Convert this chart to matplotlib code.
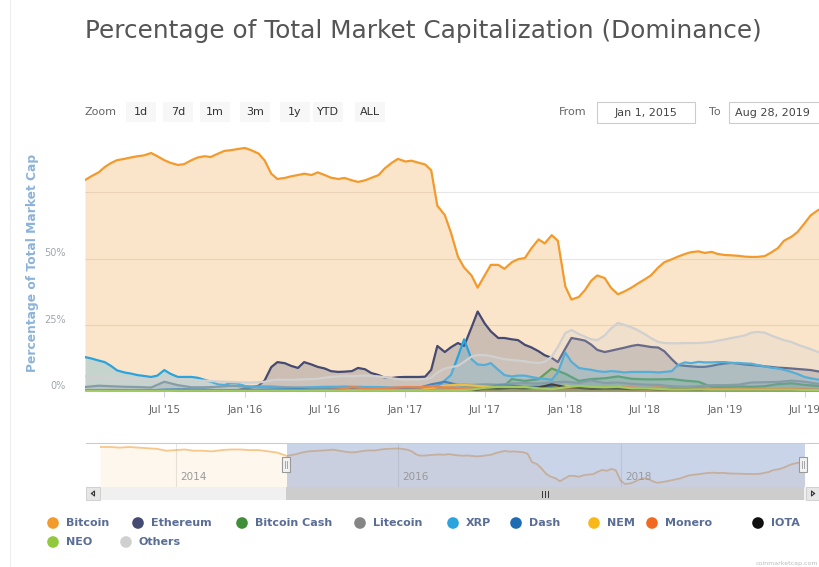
"""Percentage of total crypto market cap (dominance), Highstock-style screenshot."""

import matplotlib
matplotlib.use("Agg")
import matplotlib.pyplot as plt
import matplotlib.dates as mdates
import pandas as pd
from matplotlib.patches import Rectangle

# ---------------------------------------------------------------------------
# Data (% of total market cap)
# ---------------------------------------------------------------------------

HALF_DATES = list(pd.date_range("2015-01-01", "2019-08-16", freq="SMS")) + [pd.Timestamp("2019-08-28")]
MONTH_DATES = list(pd.date_range("2015-01-01", "2019-08-01", freq="MS")) + [pd.Timestamp("2019-08-28")]

bitcoin = [
    79.6, 81.0, 82.5, 84.5, 86.0, 87.1, 87.6, 88.1, 88.6, 88.9, 89.8, 88.6,
    87.1, 86.1, 85.3, 85.6, 87.1, 88.1, 88.6, 88.3, 89.6, 90.6, 90.9, 91.3,
    91.7, 90.9, 89.6, 87.0, 82.0, 80.0, 80.4, 81.0, 81.5, 82.0, 81.5, 82.5,
    81.5, 80.5, 80.0, 80.4, 79.5, 78.9, 79.5, 80.4, 81.5, 84.0, 86.1, 87.6,
    86.6, 86.9, 86.1, 85.5, 83.3, 69.9, 66.4, 59.8, 50.7, 46.6, 43.6, 39.0,
    43.6, 47.6, 47.6, 46.1, 48.6, 49.7, 50.2, 53.7, 57.2, 55.7, 58.8, 56.7,
    39.5, 34.5, 35.5, 38.1, 41.6, 43.6, 42.6, 39.0, 36.5, 37.5, 39.0, 40.5,
    42.1, 43.6, 46.6, 48.6, 49.7, 50.7, 51.7, 52.4, 52.7, 52.1, 52.5, 51.7,
    51.3, 51.2, 51.0, 50.7, 50.6, 50.6, 50.9, 52.2, 53.9, 56.7, 58.2, 60.0,
    63.3, 66.3, 68.3, 68.9, 69.9,
]
ethereum = [
    0, 0, 0, 0, 0, 0, 0, 0, 0, 0, 0, 0,
    0, 0, 0.2, 0.5, 0.4, 0.3, 0.2, 0.2, 0.3, 0.3, 0.3, 0.3,
    1.0, 1.3, 2.0, 4.0, 9.0, 10.9, 10.5, 9.5, 8.7, 10.9, 10.0, 9.1,
    8.5, 7.5, 7.2, 7.3, 7.5, 8.7, 8.2, 6.8, 6.0, 5.0, 4.9, 5.2,
    5.3, 5.3, 5.3, 5.4, 8.0, 17.0, 14.7, 16.5, 18.1, 17.0, 24.0, 30.0,
    25.5, 22.5, 20.0, 20.0, 19.5, 19.2, 17.4, 16.5, 15.0, 13.5, 12.5, 10.9,
    16.0, 20.0, 19.5, 19.0, 17.5, 15.5, 14.7, 15.2, 15.8, 16.3, 17.0, 17.4,
    17.0, 16.6, 16.4, 15.0, 12.0, 9.8, 9.5, 9.3, 9.1, 9.1, 9.5, 10.0,
    10.4, 10.6, 10.3, 10.0, 9.8, 9.6, 9.3, 9.1, 8.8, 8.7, 8.5, 8.3,
    8.1, 7.9, 7.4, 6.8, 6.5,
]
xrp = [
    12.8, 12.3, 11.5, 10.9, 9.5, 7.8, 7.0, 6.6, 6.0, 5.7, 5.3, 5.8,
    7.9, 6.5, 5.3, 5.3, 5.3, 5.0, 4.2, 3.5, 2.5, 2.3, 3.0, 2.8,
    1.9, 1.6, 1.5, 1.5, 1.4, 1.3, 1.2, 1.2, 1.2, 1.3, 1.4, 1.5,
    1.6, 1.6, 1.6, 1.7, 1.6, 1.6, 1.5, 1.5, 1.5, 1.4, 1.3, 1.3,
    1.3, 1.4, 1.3, 1.3, 1.2, 1.8, 4.0, 6.0, 13.0, 19.5, 12.0, 10.0,
    9.8, 10.5, 8.0, 6.0, 5.5, 5.8, 5.8, 5.3, 4.8, 4.6, 4.2, 7.0,
    14.5, 11.0, 8.7, 8.3, 8.0, 7.5, 7.2, 7.5, 7.3, 7.0, 7.2, 7.2,
    7.2, 7.2, 7.0, 7.2, 7.5, 9.8, 10.8, 10.5, 11.0, 10.8, 10.8, 10.9,
    10.9, 10.6, 10.6, 10.4, 10.3, 9.8, 9.3, 8.8, 8.5, 8.0, 7.2, 6.4,
    5.3, 4.8, 4.3, 4.0, 3.8,
]
others = [
    5.5, 5.3, 5.2, 5.0, 4.8, 4.7, 4.7, 4.5, 4.5, 4.4, 4.3, 4.3,
    4.5, 4.6, 4.5, 4.3, 4.2, 4.0, 3.9, 3.8, 3.6, 3.5, 3.4, 3.3,
    3.2, 3.2, 3.3, 3.5, 4.0, 4.3, 4.2, 4.2, 4.3, 4.4, 4.5, 4.6,
    5.0, 5.3, 5.5, 5.7, 5.6, 5.7, 5.8, 5.7, 5.5, 5.2, 4.8, 4.5,
    4.3, 4.3, 4.3, 4.5, 5.0, 7.0, 8.5, 9.0, 9.5, 11.0, 13.0, 13.6,
    13.5, 13.2, 12.5, 12.0, 11.7, 11.5, 11.2, 10.8, 10.6, 11.0, 13.0, 16.6,
    21.9, 23.0, 21.5, 20.5, 19.5, 19.2, 21.0, 23.5, 25.7, 25.0, 24.0, 23.0,
    21.5, 20.0, 18.5, 18.1, 18.0, 18.0, 18.1, 18.1, 18.1, 18.3, 18.5, 19.0,
    19.5, 20.0, 20.5, 21.0, 22.0, 22.3, 22.0, 21.0, 20.0, 19.2, 18.5, 17.5,
    16.6, 15.8, 14.7, 14.3, 14.0,
]

bitcoin_cash = [
    0, 0, 0, 0, 0, 0, 0, 0, 0, 0, 0, 0,
    0, 0, 0, 0, 0, 0, 0, 0, 0, 0, 0, 0,
    0, 0, 0, 0, 0, 0, 0, 0, 4.5, 3.8, 4.5, 8.5,
    6.5, 3.8, 4.5, 4.8, 5.5, 4.6, 4.4, 4.4, 4.5, 3.9, 3.5, 1.5,
    1.6, 1.7, 1.6, 1.8, 2.6, 2.9, 2.3, 1.9, 1.9,
]
litecoin = [
    1.5, 2.0, 1.8, 1.6, 1.5, 1.3, 3.5, 2.2, 1.4, 1.4, 1.6, 2.0,
    1.7, 1.7, 1.7, 1.4, 1.3, 1.2, 1.2, 1.0, 1.1, 1.1, 1.2, 1.0,
    1.0, 1.0, 1.0, 1.4, 2.5, 2.3, 2.5, 2.4, 2.8, 3.0, 2.8, 3.2,
    3.5, 3.0, 4.0, 3.0, 3.2, 2.7, 2.4, 2.3, 1.8, 1.6, 1.8, 2.2,
    2.2, 2.4, 3.2, 3.3, 3.4, 3.9, 3.5, 2.7, 2.6,
]
dash = [
    0.1, 0.1, 0.3, 0.3, 0.3, 0.3, 0.5, 0.6, 0.5, 0.5, 0.3, 0.3,
    0.3, 0.4, 0.5, 0.6, 0.7, 0.6, 0.6, 0.6, 0.8, 0.9, 0.8, 0.9,
    0.8, 1.2, 2.5, 3.5, 2.3, 1.7, 1.5, 2.0, 2.0, 1.5, 1.6, 1.8,
    1.6, 1.6, 1.3, 1.2, 1.3, 1.0, 1.0, 1.0, 0.9, 0.9, 1.1, 0.6,
    0.6, 0.6, 0.6, 0.7, 0.7, 0.7, 0.5, 0.4, 0.4,
]
nem = [
    0, 0, 0, 0.1, 0.1, 0.1, 0.1, 0.1, 0.1, 0.1, 0.1, 0.1,
    0.05, 0.05, 0.1, 0.2, 0.3, 0.4, 0.4, 0.3, 0.3, 0.3, 0.3, 0.3,
    0.3, 0.4, 1.0, 2.0, 2.4, 2.1, 1.7, 1.5, 1.5, 1.0, 1.0, 1.1,
    2.0, 1.4, 1.0, 1.0, 0.8, 0.7, 0.7, 0.5, 0.4, 0.5, 0.5, 0.4,
    0.3, 0.4, 0.4, 0.4, 0.3, 0.3, 0.2, 0.2, 0.2,
]
monero = [
    0.3, 0.3, 0.2, 0.2, 0.2, 0.2, 0.2, 0.2, 0.1, 0.1, 0.1, 0.1,
    0.1, 0.2, 0.2, 0.3, 0.3, 0.3, 0.3, 0.6, 1.5, 1.0, 1.1, 1.2,
    1.5, 1.4, 1.8, 1.3, 1.1, 0.9, 0.7, 0.8, 1.1, 1.2, 1.0, 1.0,
    1.1, 1.1, 1.2, 1.4, 1.5, 1.3, 1.1, 1.3, 1.0, 1.1, 1.0, 0.8,
    0.7, 0.7, 0.7, 0.7, 0.7, 0.7, 0.6, 0.5, 0.4,
]
iota = [
    0, 0, 0, 0, 0, 0, 0, 0, 0, 0, 0, 0,
    0, 0, 0, 0, 0, 0, 0, 0, 0, 0, 0, 0,
    0, 0, 0, 0, 0, 0, 1.0, 0.9, 1.2, 1.0, 1.3, 2.5,
    1.5, 1.2, 0.8, 0.9, 0.9, 0.7, 0.8, 0.6, 0.6, 0.6, 0.4, 0.3,
    0.2, 0.2, 0.2, 0.2, 0.2, 0.3, 0.2, 0.1, 0.1,
]
neo = [
    0, 0, 0, 0, 0, 0, 0, 0, 0, 0, 0, 0,
    0, 0, 0, 0, 0, 0, 0.1, 0.1, 0.1, 0.1, 0.1, 0.1,
    0.1, 0.1, 0.1, 0.2, 0.3, 0.5, 1.2, 1.6, 1.5, 1.5, 1.0, 0.7,
    1.4, 1.9, 1.6, 1.4, 1.6, 1.0, 1.0, 0.8, 0.6, 0.6, 0.6, 0.5,
    0.5, 0.5, 0.5, 0.5, 0.5, 0.5, 0.4, 0.4, 0.3,
]

# Bitcoin before the selected range (navigator only)
NAV_PRE_DATES = [pd.Timestamp("2013-04-28")] + list(pd.date_range("2013-05-01", "2014-12-01", freq="MS"))
nav_bitcoin_pre = [94.5, 94, 94, 93, 94, 93, 92, 91, 88, 89, 90, 88, 88, 87, 89, 90, 90, 89, 89, 87, 85]

NAMES = ["Bitcoin", "Ethereum", "Bitcoin Cash", "Litecoin", "XRP", "Dash",
         "NEM", "Monero", "IOTA", "NEO", "Others"]
COLORS = ["#f39a2c", "#454a72", "#3f8f3a", "#858585", "#2ba3dc", "#1c6db4",
          "#f9b81a", "#f26a22", "#111111", "#92c83e", "#d0d0d0"]
SERIES_DATES = [HALF_DATES, HALF_DATES, MONTH_DATES, MONTH_DATES, HALF_DATES, MONTH_DATES,
                MONTH_DATES, MONTH_DATES, MONTH_DATES, MONTH_DATES, HALF_DATES]
SERIES_VALUES = [bitcoin, ethereum, bitcoin_cash, litecoin, xrp, dash,
                 nem, monero, iota, neo, others]

X_TICKS = list(pd.date_range("2015-07-01", "2019-07-01", freq="6MS"))

# ---------------------------------------------------------------------------
# Figure (all layout in pixels of an 820x567 canvas)
# ---------------------------------------------------------------------------

W, H = 820, 567
fig = plt.figure(figsize=(W / 100, H / 100), dpi=100)
fig.patch.set_facecolor("white")


def box(x0, y0, x1, y1):
    return [x0 / W, 1 - y1 / H, (x1 - x0) / W, (y1 - y0) / H]


def fit(txt, target_px):
    fig.canvas.draw()
    ext = txt.get_window_extent()
    txt.set_fontsize(txt.get_fontsize() * target_px / max(ext.width, ext.height))


# main plot
ax = fig.add_axes(box(85, 126, 830, 391))
for name, dates, vals, color, i in zip(NAMES, SERIES_DATES, SERIES_VALUES, COLORS, range(20)):
    ax.fill_between(dates, vals, 0, color=color, alpha=0.25, lw=0, zorder=2 + 2 * i)
    ax.plot(dates, vals, color=color, lw=1.6, zorder=3 + 2 * i, solid_joinstyle="round")

ax.set_xlim(pd.Timestamp("2015-01-01"), pd.Timestamp("2019-08-28"))
ax.set_ylim(0, 100)
ax.set_yticks([0, 25, 50, 75])
ax.set_yticklabels(["0%", "25%", "50%", ""])
ax.yaxis.grid(True, color="#e6e6e6", lw=0.8)
ax.set_axisbelow(True)
ax.set_xticks(X_TICKS)
ax.xaxis.set_major_formatter(mdates.DateFormatter("%b '%y"))
ax.tick_params(axis="x", length=4, color="#ccd6eb", labelsize=7.5, labelcolor="#666666", pad=6)
ax.tick_params(axis="y", length=0, labelsize=7, labelcolor="#a0a6ae", pad=14)
for lbl in ax.get_yticklabels():
    lbl.set_va("bottom")
for s in ["top", "right", "left"]:
    ax.spines[s].set_visible(False)
ax.spines["bottom"].set_color("#ccd6eb")

# navigator
nav_dates = NAV_PRE_DATES + HALF_DATES
nav_vals = nav_bitcoin_pre + bitcoin
nav = fig.add_axes(box(100, 443, 805, 487))
nav.fill_between(nav_dates, nav_vals, 0, color=COLORS[0], alpha=0.08, lw=0, zorder=2)
nav.plot(nav_dates, nav_vals, color=COLORS[0], lw=1.3, alpha=0.55, zorder=3)
nav.axvspan(pd.Timestamp("2015-01-01"), pd.Timestamp("2019-08-28"),
            color=(102 / 255, 133 / 255, 194 / 255), alpha=0.35, lw=0, zorder=4)
nav.set_xlim(pd.Timestamp("2013-04-28"), pd.Timestamp("2019-08-28"))
nav.set_ylim(29.7, 100.4)
for year in ["2014", "2016", "2018"]:
    nav.axvline(pd.Timestamp(year + "-01-01"), color="#e6e6e6", lw=0.8, zorder=1)
    nav.text(pd.Timestamp(year + "-01-01") + pd.Timedelta(days=14), 0.22, year,
             transform=nav.get_xaxis_transform(), ha="left", va="center",
             fontsize=7.5, color="#999999", zorder=5)
nav.set_xticks([])
nav.set_yticks([])
for s in nav.spines.values():
    s.set_visible(False)

# overlay for title, buttons, legend, scrollbar
ov = fig.add_axes([0, 0, 1, 1])
ov.set_xlim(0, W)
ov.set_ylim(H, 0)
ov.axis("off")

ov.plot([10, 10], [0, H], color="#eeeeee", lw=0.8)

title = ov.text(85, 31, "Percentage of Total Market Capitalization (Dominance)",
                ha="left", va="center", fontsize=16, color="#555555")
fit(title, 678)

ov.text(85, 112, "Zoom", ha="left", va="center", fontsize=8, color="#666666")
for label, cx in zip(["1d", "7d", "1m", "3m", "1y", "YTD", "ALL"],
                     [141, 178, 215, 255, 295, 328, 370]):
    ov.add_patch(Rectangle((cx - 15, 102), 30, 20, facecolor="#f7f7f7", edgecolor="none"))
    ov.text(cx, 112, label, ha="center", va="center", fontsize=8, color="#333333")

ov.text(573, 112, "From", ha="center", va="center", fontsize=8, color="#666666")
ov.add_patch(Rectangle((597, 102), 98, 21, facecolor="white", edgecolor="#cccccc", lw=0.8))
ov.text(646, 112.5, "Jan 1, 2015", ha="center", va="center", fontsize=8, color="#444444")
ov.text(715, 112, "To", ha="center", va="center", fontsize=8, color="#666666")
ov.add_patch(Rectangle((729, 102), 98, 21, facecolor="white", edgecolor="#cccccc", lw=0.8))
ov.text(735, 112.5, "Aug 28, 2019", ha="left", va="center", fontsize=8, color="#444444")

ylab = ov.text(33, 263, "Percentage of Total Market Cap", rotation=90, ha="center",
               va="center", fontsize=8.5, color="#8db3d8", fontweight="bold")
fit(ylab, 217)

# navigator outline and handles
ov.plot([86, 820], [443, 443], color="#cccccc", lw=0.8)
for hx in [286, 803]:
    ov.add_patch(Rectangle((hx - 4, 457), 8, 15, facecolor="#f2f2f2", edgecolor="#999999", lw=0.8, zorder=6))
    ov.plot([hx - 1, hx - 1], [461, 468], color="#999999", lw=0.6, zorder=7)
    ov.plot([hx + 1, hx + 1], [461, 468], color="#999999", lw=0.6, zorder=7)

# scrollbar
ov.add_patch(Rectangle((86, 487), 734, 13, facecolor="#f0f0f0", edgecolor="none"))
ov.add_patch(Rectangle((286, 487), 518, 13, facecolor="#cdcdcd", edgecolor="none"))
for bx in [86, 806]:
    ov.add_patch(Rectangle((bx, 487), 14, 13, facecolor="#e6e6e6", edgecolor="#cccccc", lw=0.6))
ov.plot([91.5, 94.5, 94.5, 91.5], [493.5, 491, 496, 493.5], color="#333333", lw=0.8)
ov.plot([814.5, 811.5, 811.5, 814.5], [493.5, 491, 496, 493.5], color="#333333", lw=0.8)
for gx in [542, 545, 548]:
    ov.plot([gx, gx], [490.5, 496.5], color="#333333", lw=0.7)

# legend
legend_pos = [(53, 523), (138, 523), (242, 523), (360, 523), (453, 523), (516, 523),
              (594, 523), (652, 523), (758, 523), (53, 542), (126, 542)]
for name, color, (lx, ly) in zip(NAMES, COLORS, legend_pos):
    ov.scatter([lx], [ly], s=70, color=color, edgecolors="none", zorder=5)
    ov.text(lx + 13, ly, name, ha="left", va="center", fontsize=8,
            fontweight="bold", color="#5a6d95")

ov.text(818, 563, "coinmarketcap.com", ha="right", va="center", fontsize=4.5, color="#bbbbbb")

fig.savefig("out.png", dpi=100)
